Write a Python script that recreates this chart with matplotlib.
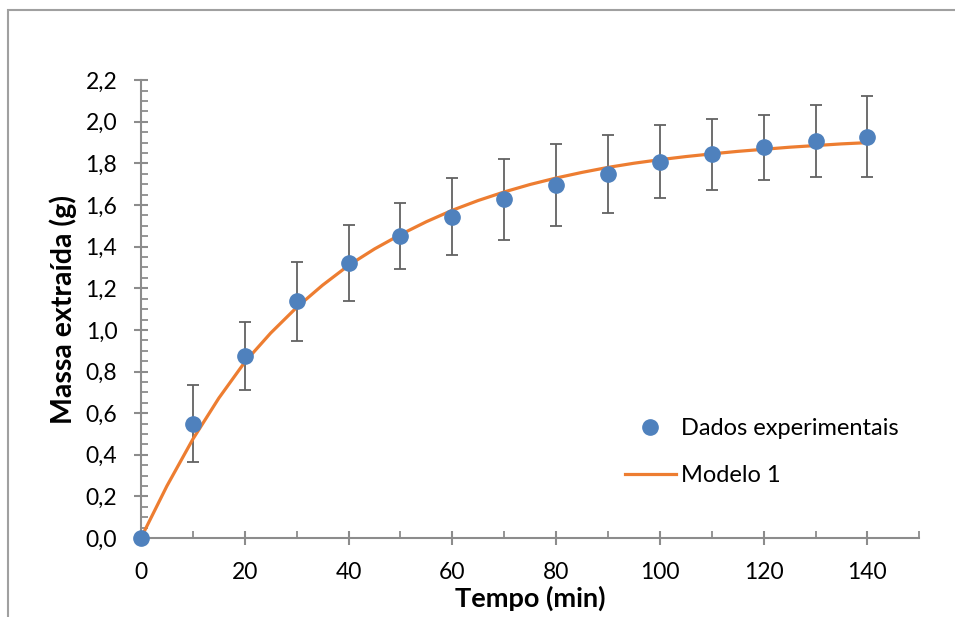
#  Massa extraida vs tempo: dados experimentais e modelo 1
import numpy as np
import matplotlib.pyplot as plt
from matplotlib.ticker import MultipleLocator, FuncFormatter
from matplotlib.patches import Rectangle

plt.rcParams['font.family'] = ['Lato', 'DejaVu Sans']

tempo = [0, 10, 20, 30, 40, 50, 60, 70, 80, 90, 100, 110, 120, 130, 140]
massa = [0.0, 0.548, 0.873, 1.137, 1.321, 1.452, 1.543, 1.628, 1.697, 1.750,
         1.808, 1.844, 1.878, 1.908, 1.929]
erro = [0.0, 0.185, 0.163, 0.190, 0.183, 0.158, 0.185, 0.194, 0.197, 0.187,
        0.175, 0.170, 0.157, 0.175, 0.195]

tempo_modelo = [0, 5, 10, 15, 20, 25, 30, 35, 40, 45, 50, 55, 60, 65, 70,
                75, 80, 85, 90, 95, 100, 105, 110, 115, 120, 125, 130, 135, 140]
massa_modelo = [0.0, 0.25, 0.475, 0.672, 0.845, 0.985, 1.108, 1.215, 1.310, 1.389,
                1.458, 1.520, 1.575, 1.622, 1.663, 1.699, 1.730, 1.757, 1.781, 1.801,
                1.818, 1.833, 1.846, 1.858, 1.868, 1.878, 1.886, 1.894, 1.900]

fig = plt.figure(figsize=(9.55, 6.17), dpi=100)
ax = fig.add_axes([0.1476, 0.128, 0.815, 0.742])

ax.errorbar(tempo, massa, yerr=erro, fmt='none', ecolor='#626262',
            elinewidth=1.3, capsize=4.3, capthick=1.3, zorder=2)
ax.plot(tempo_modelo, massa_modelo, color='#ED7D31', lw=2.3,
        label='Modelo 1', zorder=3)
ax.plot(tempo, massa, 'o', color='#4F81BD', markersize=11,
        label='Dados experimentais', zorder=4, clip_on=False)

ax.set_xlim(0, 150)
ax.set_ylim(0, 2.2)
ax.xaxis.set_major_locator(MultipleLocator(20))
ax.xaxis.set_minor_locator(MultipleLocator(10))
ax.yaxis.set_major_locator(MultipleLocator(0.2))
ax.yaxis.set_minor_locator(MultipleLocator(0.05))
ax.yaxis.set_major_formatter(FuncFormatter(lambda v, p: f'{v:.1f}'.replace('.', ',')))
ax.set_xticks([0, 20, 40, 60, 80, 100, 120, 140])

for s in ['top', 'right']:
    ax.spines[s].set_visible(False)
for s in ['left', 'bottom']:
    ax.spines[s].set_color('#8c8c8c')
    ax.spines[s].set_linewidth(1.5)

ax.tick_params(which='major', direction='inout', length=10, width=1.5,
               color='#8c8c8c', labelsize=16.5, labelcolor='black')
ax.tick_params(which='minor', direction='in', length=5, width=1.3,
               color='#8c8c8c')
ax.tick_params(axis='y', which='major', pad=12)
ax.tick_params(axis='x', which='major', pad=12)

ax.set_xlabel('Tempo (min)', fontsize=19.5, fontweight='bold', labelpad=2)
ax.set_ylabel('Massa extraída (g)', fontsize=20.5, fontweight='bold', labelpad=6)

handles, labels = ax.get_legend_handles_labels()
ax.legend(handles[::-1], labels[::-1], loc='upper left',
          bbox_to_anchor=(0.594, 0.308), frameon=False, fontsize=17,
          handlelength=2.16, handletextpad=0.25, labelspacing=1.1)

#  moldura da figura
fig.patches.append(Rectangle((8 / 955, -0.1), 1.0, 1.1 - 10 / 617,
                             transform=fig.transFigure, fill=False,
                             edgecolor='#a0a0a0', lw=1.5))

plt.savefig('out.png', dpi=100)
